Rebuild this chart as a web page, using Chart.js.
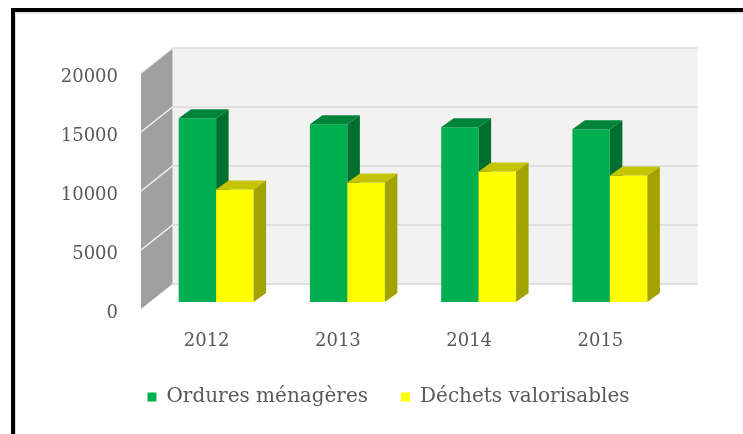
<!DOCTYPE html>
<html lang="fr">
<head>
    <meta charset="UTF-8">
    <title>Ordures ménagères et déchets valorisables</title>
    <script src="https://cdn.jsdelivr.net/npm/chart.js"></script>
    <style>
        body { margin: 0; background: #ffffff; }
        #frame {
            position: absolute; left: 11px; top: 8px; width: 760px; height: 460px;
            border-left: 4px solid #000; border-top: 4px solid #000;
        }
        #frame-inner {
            position: absolute; left: 0; top: 0; width: 100%; height: 100%;
            border-left: 1px solid #d9d9d9; border-top: 2px solid #e6e6e6;
        }
        #wasteChart { position: absolute; left: 0; top: 0; }
    </style>
</head>
<body>
    <div id="frame"><div id="frame-inner"></div></div>
    <canvas id="wasteChart" width="743" height="434"></canvas>

    <script>
        const years = ['2012', '2013', '2014', '2015'];
        const ordures = [15580, 15060, 14810, 14640];
        const valorisables = [9530, 10130, 11060, 10720];
        const yTicks = [0, 5000, 10000, 15000, 20000];

        const seriesNames = ['Ordures ménagères', 'Déchets valorisables'];
        const faceColors = [
            { front: '#00b050', top: '#00843a', side: '#006f30' },
            { front: '#ffff00', top: '#c4c400', side: '#a3a300' }
        ];

        // depth offsets: back wall, plane of the bars, depth of each bar
        const wallDepth = { x: 31.5, y: -25 };
        const barPlane = { x: 9.5, y: -7 };
        const barDepth = { x: 12.5, y: -9 };

        function poly(ctx, pts, fill) {
            ctx.beginPath();
            ctx.moveTo(pts[0][0], pts[0][1]);
            for (let i = 1; i < pts.length; i++) ctx.lineTo(pts[i][0], pts[i][1]);
            ctx.closePath();
            ctx.fillStyle = fill;
            ctx.fill();
        }

        const threeD = {
            id: 'threeD',
            beforeDatasetsDraw(chart) {
                const ctx = chart.ctx;
                const area = chart.chartArea;
                const yScale = chart.scales.y;
                const top = yScale.getPixelForValue(20000);
                const bottom = yScale.getPixelForValue(0);

                ctx.save();
                // back wall
                poly(ctx, [
                    [area.left + wallDepth.x, top + wallDepth.y],
                    [area.right + wallDepth.x, top + wallDepth.y],
                    [area.right + wallDepth.x, bottom + wallDepth.y],
                    [area.left + wallDepth.x, bottom + wallDepth.y]
                ], '#f2f2f2');
                // side wall
                poly(ctx, [
                    [area.left, bottom],
                    [area.left, top],
                    [area.left + wallDepth.x, top + wallDepth.y],
                    [area.left + wallDepth.x, bottom + wallDepth.y]
                ], '#a0a0a0');

                yTicks.forEach(v => {
                    const py = yScale.getPixelForValue(v);
                    ctx.lineWidth = 1.5;
                    ctx.strokeStyle = '#d9d9d9';
                    ctx.beginPath();
                    ctx.moveTo(area.left + wallDepth.x, py + wallDepth.y);
                    ctx.lineTo(area.right + wallDepth.x, py + wallDepth.y);
                    ctx.stroke();
                    if (v > 0) {
                        ctx.strokeStyle = '#f2f2f2';
                        ctx.beginPath();
                        ctx.moveTo(area.left, py);
                        ctx.lineTo(area.left + wallDepth.x, py + wallDepth.y);
                        ctx.stroke();
                    }
                });

                // bars, category by category so the faces overlap properly
                years.forEach((year, i) => {
                    chart.data.datasets.forEach((ds, d) => {
                        const bar = chart.getDatasetMeta(d).data[i];
                        const p = bar.getProps(['x', 'y', 'base', 'width'], true);
                        const x0 = p.x - p.width / 2 + barPlane.x;
                        const x1 = p.x + p.width / 2 + barPlane.x;
                        const yt = p.y + barPlane.y;
                        const yb = p.base + barPlane.y;
                        const c = faceColors[d];
                        poly(ctx, [[x0, yt], [x1, yt], [x1, yb], [x0, yb]], c.front);
                        poly(ctx, [[x0, yt], [x1, yt], [x1 + barDepth.x, yt + barDepth.y], [x0 + barDepth.x, yt + barDepth.y]], c.top);
                        poly(ctx, [[x1, yt], [x1 + barDepth.x, yt + barDepth.y], [x1 + barDepth.x, yb + barDepth.y], [x1, yb]], c.side);
                    });
                });
                ctx.restore();
                return false;
            }
        };

        const ctx = document.getElementById('wasteChart').getContext('2d');
        new Chart(ctx, {
            type: 'bar',
            data: {
                labels: years,
                datasets: [
                    { label: seriesNames[0], data: ordures, backgroundColor: faceColors[0].front },
                    { label: seriesNames[1], data: valorisables, backgroundColor: faceColors[1].front }
                ]
            },
            options: {
                responsive: false,
                devicePixelRatio: 1,
                animation: false,
                categoryPercentage: 0.571,
                barPercentage: 1,
                layout: { padding: { left: 34, right: 0, top: 73, bottom: 17 } },
                plugins: {
                    tooltip: { enabled: false },
                    legend: {
                        position: 'bottom',
                        labels: {
                            boxWidth: 9,
                            boxHeight: 9,
                            padding: 33,
                            color: '#595959',
                            font: { family: 'DejaVu Serif', size: 20 }
                        }
                    }
                },
                scales: {
                    x: {
                        grid: { display: false, drawTicks: false },
                        border: { display: false },
                        ticks: { color: '#595959', padding: 22, font: { family: 'DejaVu Serif', size: 18 } },
                        afterFit: scale => { scale.height = 45; }
                    },
                    y: {
                        min: 0,
                        max: 20000,
                        grid: { display: false, drawTicks: false },
                        border: { display: false },
                        afterBuildTicks: scale => { scale.ticks = yTicks.map(v => ({ value: v })); },
                        ticks: {
                            color: '#595959', padding: 23, labelOffset: 4,
                            font: { family: 'DejaVu Serif', size: 18 },
                            callback: v => String(v)
                        },
                        afterFit: scale => { scale.width = 107; }
                    },
                    y2: {
                        position: 'right',
                        grid: { display: false, drawTicks: false },
                        border: { display: false },
                        ticks: { display: false },
                        afterFit: scale => { scale.width = 77; }
                    }
                }
            },
            plugins: [threeD]
        });
    </script>
</body>
</html>
